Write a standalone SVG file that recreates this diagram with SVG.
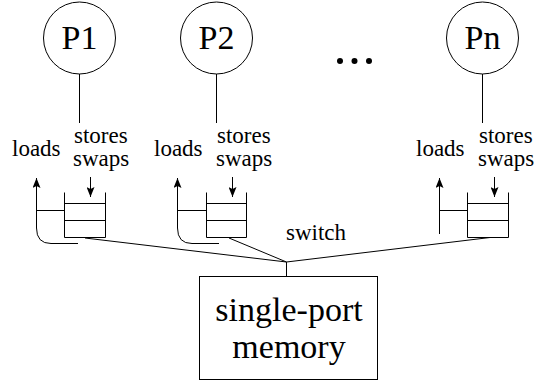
<svg xmlns="http://www.w3.org/2000/svg" width="534" height="383" viewBox="0 0 534 383">
  <style>
    .ln { fill: none; stroke: #000; stroke-width: 1; }
    text { font-family: "Liberation Serif", "Times New Roman", serif; fill: #000; }
    .lbl { font-size: 23px; }
    .big { font-size: 34px; text-anchor: middle; }
  </style>
  <defs>
    <marker id="arr" viewBox="0 0 10 8" refX="10" refY="4" markerWidth="10" markerHeight="8" markerUnits="userSpaceOnUse" orient="auto">
      <path d="M0,0 L10,4 L0,8 L2,4 Z" fill="#000"/>
    </marker>
  </defs>

  <rect width="534" height="383" fill="#fff"/>

  <!-- processors -->
  <g id="p1">
    <circle class="ln" cx="79.5" cy="38" r="36"/>
    <text class="big" x="79.5" y="48.5">P1</text>
  </g>
  <g id="p2">
    <circle class="ln" cx="216.5" cy="38" r="36"/>
    <text class="big" x="216.5" y="48.5">P2</text>
  </g>
  <g id="pn">
    <circle class="ln" cx="482.5" cy="38" r="36"/>
    <text class="big" x="482.5" y="48.5">Pn</text>
  </g>
  <g id="ellipsis">
    <circle cx="340" cy="61" r="3"/>
    <circle cx="354.5" cy="61" r="3"/>
    <circle cx="369" cy="61" r="3"/>
  </g>

  <!-- per-processor write queues -->
  <g id="q1">
    <path class="ln" d="M64.5,192.5 V237.5 H105.5 V192.5 M64.5,203.5 H105.5 M64.5,220.5 H105.5"/>
  </g>
  <g id="q2">
    <path class="ln" d="M206.5,192.5 V237.5 H246.5 V192.5 M206.5,203.5 H246.5 M206.5,220.5 H246.5"/>
  </g>
  <g id="qn">
    <path class="ln" d="M467.5,192.5 V237.5 H508.5 V192.5 M467.5,203.5 H508.5 M467.5,220.5 H508.5"/>
  </g>

  <!-- shared memory -->
  <g id="memory">
    <rect class="ln" x="199.5" y="276.5" width="178" height="103"/>
    <text class="big" x="289" y="321">single-port</text>
    <text class="big" x="289" y="358">memory</text>
  </g>

  <!-- labels -->
  <g id="labels">
    <text class="lbl" x="74" y="143">stores</text>
    <text class="lbl" x="73" y="166">swaps</text>
    <text class="lbl" x="12" y="156">loads</text>
    <text class="lbl" x="217" y="143">stores</text>
    <text class="lbl" x="216" y="166">swaps</text>
    <text class="lbl" x="154" y="156">loads</text>
    <text class="lbl" x="479" y="143">stores</text>
    <text class="lbl" x="478" y="166">swaps</text>
    <text class="lbl" x="416" y="156">loads</text>
    <text class="lbl" x="286" y="240">switch</text>
  </g>

  <!-- connectors -->
  <g id="connectors">
    <path class="ln" d="M79.5,74 V123"/>
    <path class="ln" d="M216.5,74 V123"/>
    <path class="ln" d="M482.5,74 V123"/>

    <path class="ln" d="M90.5,177 V197" marker-end="url(#arr)"/>
    <path class="ln" d="M232.5,177 V197" marker-end="url(#arr)"/>
    <path class="ln" d="M494.5,177 V197" marker-end="url(#arr)"/>

    <path class="ln" d="M78,243.5 H51 Q36.5,243.5 36.5,228 V178" marker-end="url(#arr)"/>
    <path class="ln" d="M36.5,210.5 H64.5"/>
    <path class="ln" d="M219,243.5 H192 Q177.5,243.5 177.5,228 V178" marker-end="url(#arr)"/>
    <path class="ln" d="M177.5,210.5 H206.5"/>
    <path class="ln" d="M439.5,234 V178" marker-end="url(#arr)"/>
    <path class="ln" d="M439.5,210.5 H467.5"/>

    <path class="ln" d="M85,238 L286.5,262 L229,238 M286.5,262 L490,237.5 M286.5,262 V276.5"/>
  </g>
</svg>
